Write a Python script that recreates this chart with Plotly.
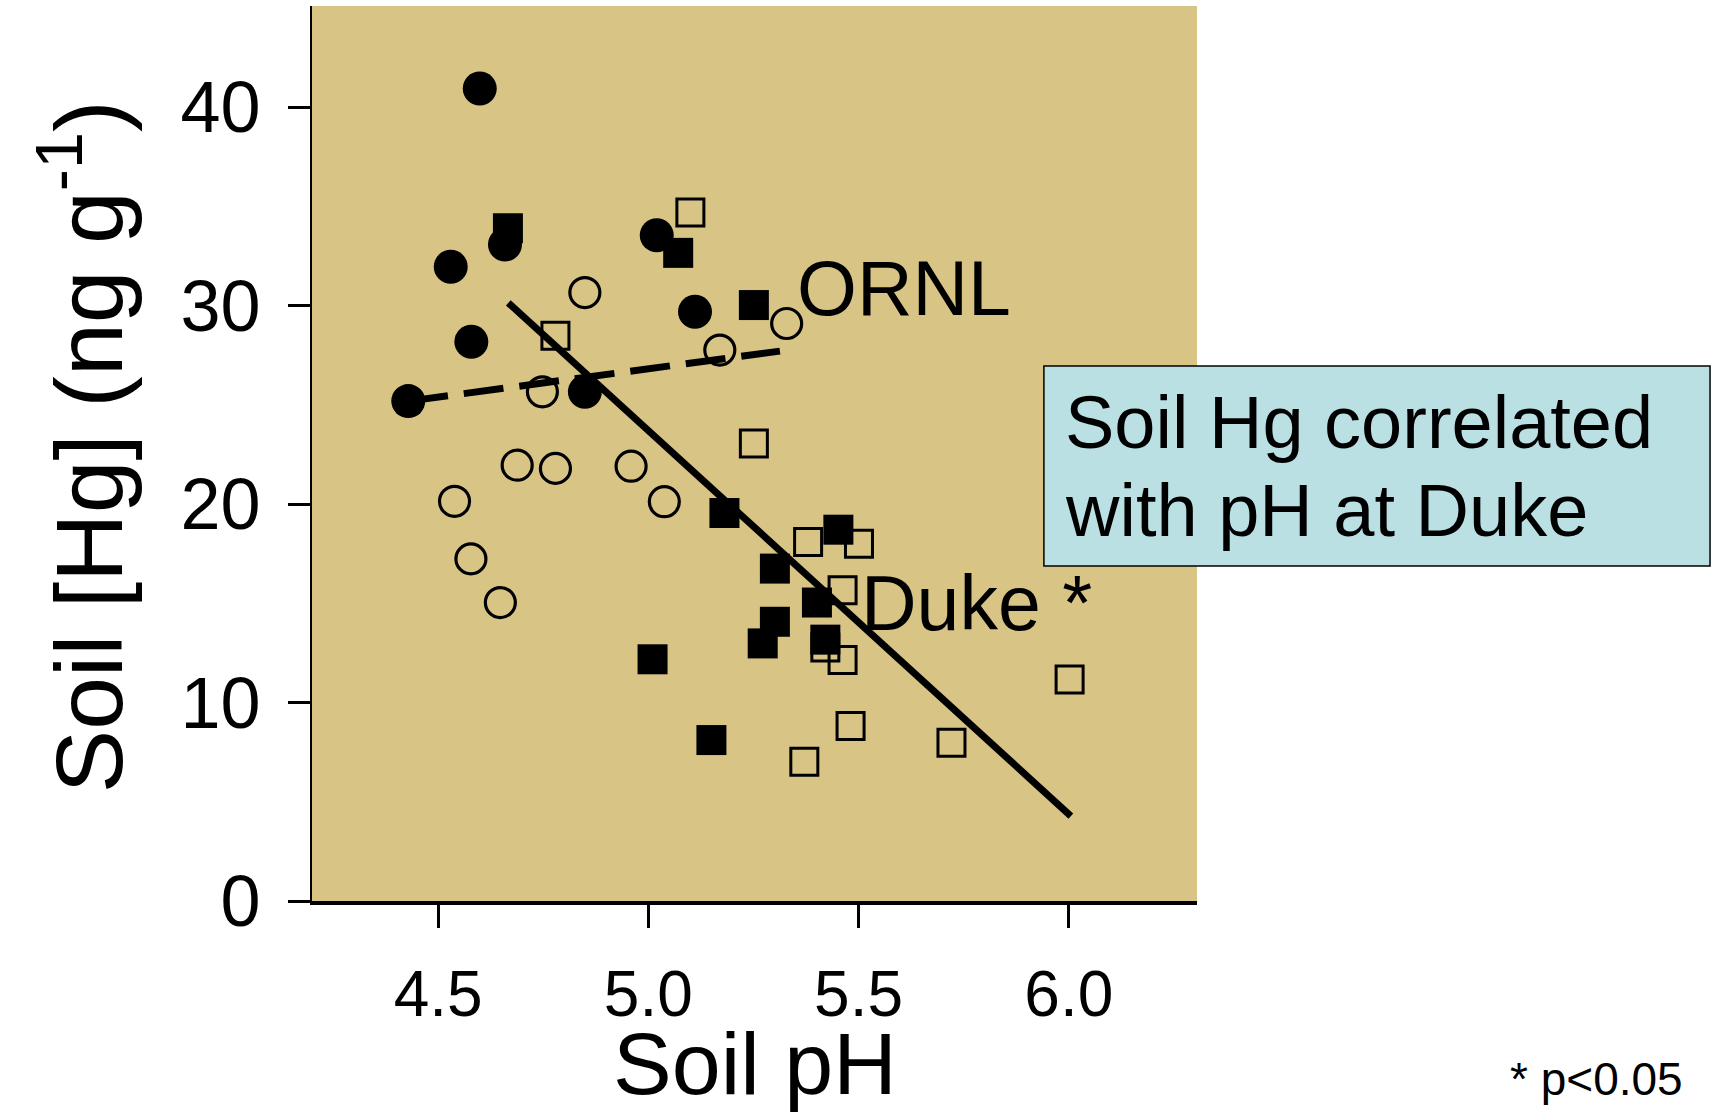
import plotly.graph_objects as go

# ORNL (circles) and Duke (squares); filled / open = two treatments
ornl_filled_ph = [4.599, 4.530, 4.659, 4.579, 4.429, 4.849, 5.020, 5.111]
ornl_filled_hg = [40.94, 31.96, 33.08, 28.18, 25.19, 25.66, 33.55, 29.69]

ornl_open_ph = [4.539, 4.578, 4.648, 4.688, 4.779, 4.748, 4.849, 4.959, 5.038, 5.170, 5.329]
ornl_open_hg = [20.14, 17.24, 15.04, 21.96, 21.80, 25.66, 30.66, 21.91, 20.12, 27.76, 29.10]

duke_filled_ph = [4.666, 5.071, 5.251, 5.181, 5.301, 5.301, 5.272, 5.010, 5.150, 5.401, 5.452, 5.421]
duke_filled_hg = [33.90, 32.66, 30.03, 19.55, 16.75, 14.07, 12.98, 12.18, 8.11, 15.04, 18.71, 13.17]

duke_open_ph = [5.100, 4.779, 5.251, 5.380, 5.501, 5.462, 5.421, 5.462, 5.481, 5.371, 5.721, 6.002]
duke_open_hg = [34.69, 28.48, 23.06, 18.09, 18.00, 15.66, 12.77, 12.14, 8.82, 7.02, 7.97, 11.16]

# regression lines (end points)
ornl_fit_ph = [4.429, 5.313]
ornl_fit_hg = [25.19, 27.71]
duke_fit_ph = [4.667, 6.005]
duke_fit_hg = [30.14, 4.28]

x_ticks = [4.5, 5.0, 5.5, 6.0]
x_tick_labels = ["4.5", "5.0", "5.5", "6.0"]
y_ticks = [0, 10, 20, 30, 40]
y_tick_labels = ["0", "10", "20", "30", "40"]

FONT = "Liberation Sans, Arial, sans-serif"

fig = go.Figure()

fig.add_trace(go.Scatter(x=duke_open_ph, y=duke_open_hg, mode="markers",
                         marker=dict(symbol="square-open", size=27, color="black",
                                     line=dict(width=3, color="black"))))
fig.add_trace(go.Scatter(x=ornl_open_ph, y=ornl_open_hg, mode="markers",
                         marker=dict(symbol="circle-open", size=30, color="black",
                                     line=dict(width=3.2, color="black"))))
fig.add_trace(go.Scatter(x=duke_filled_ph, y=duke_filled_hg, mode="markers",
                         marker=dict(symbol="square", size=30, color="black",
                                     line=dict(width=0))))
fig.add_trace(go.Scatter(x=ornl_filled_ph, y=ornl_filled_hg, mode="markers",
                         marker=dict(symbol="circle", size=34, color="black",
                                     line=dict(width=0))))
fig.add_trace(go.Scatter(x=ornl_fit_ph, y=ornl_fit_hg, mode="lines",
                         line=dict(color="black", width=7, dash="40px,16px")))
fig.add_trace(go.Scatter(x=duke_fit_ph, y=duke_fit_hg, mode="lines",
                         line=dict(color="black", width=7)))

fig.update_layout(
    width=1717, height=1113,
    margin=dict(l=312, r=520, t=6, b=212),
    paper_bgcolor="white",
    plot_bgcolor="#D8C586",
    showlegend=False,
    font=dict(family=FONT, color="black"),
    xaxis=dict(range=[4.2, 6.305], tickvals=x_ticks, ticktext=x_tick_labels,
               showgrid=False, zeroline=False, showline=True, linecolor="black",
               linewidth=4, ticks="outside", ticklen=23, tickwidth=3,
               tickcolor="black", tickfont=dict(size=64, family=FONT),
               ticklabelstandoff=11),
    yaxis=dict(range=[0, 45.1], tickvals=y_ticks, ticktext=y_tick_labels,
               showgrid=False, zeroline=False, showline=True, linecolor="black",
               linewidth=2, ticks="outside", ticklen=22, tickwidth=3,
               tickcolor="black", tickfont=dict(size=72, family=FONT),
               ticklabelstandoff=13),
)

# text box
fig.add_shape(type="rect", xref="paper", yref="paper",
              x0=0.827, x1=1.5797, y0=0.3743, y1=0.5978,
              fillcolor="#BBE0E3", line=dict(color="black", width=1.5))

ann = [
    dict(text="Soil Hg correlated", x=0.849, y=0.535, xanchor="left", yanchor="middle",
         xref="paper", yref="paper", size=74),
    dict(text="with pH at Duke", x=0.849, y=0.4358, xanchor="left", yanchor="middle",
         xref="paper", yref="paper", size=74),
    dict(text="ORNL", x=5.349, y=30.9, xanchor="left", yanchor="middle",
         xref="x", yref="y", size=77),
    dict(text="Duke *", x=5.5, y=15.0, xanchor="left", yanchor="middle",
         xref="x", yref="y", size=77),
    dict(text="Soil pH", x=0.5, y=-0.182, xanchor="center", yanchor="middle",
         xref="paper", yref="paper", size=88),
    dict(text="* p<0.05", x=1.451, y=-0.199, xanchor="center", yanchor="middle",
         xref="paper", yref="paper", size=46),
]
for a in ann:
    fig.add_annotation(text=a["text"], x=a["x"], y=a["y"], xref=a["xref"], yref=a["yref"],
                       xanchor=a["xanchor"], yanchor=a["yanchor"], showarrow=False,
                       font=dict(size=a["size"], family=FONT, color="black"))

fig.add_annotation(text="Soil [Hg] (ng g<sup>-1</sup>)", textangle=-90,
                   x=-0.259, y=0.508, xref="paper", yref="paper",
                   xanchor="center", yanchor="middle", showarrow=False,
                   font=dict(size=95, family=FONT, color="black"))

fig.write_html("out.html")
